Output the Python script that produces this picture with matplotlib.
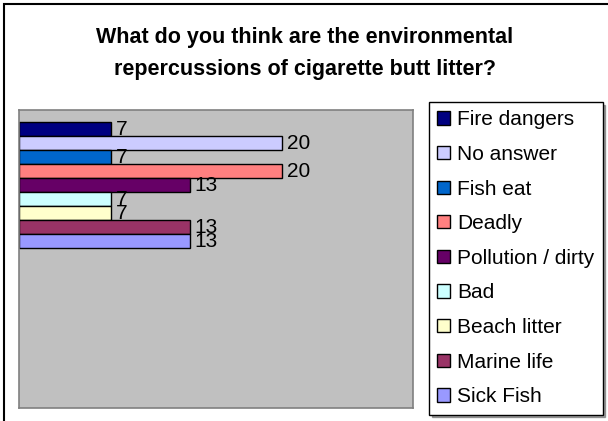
import matplotlib.pyplot as plt
from matplotlib.patches import Rectangle

# --- data ---
labels = ["Fire dangers", "No answer", "Fish eat", "Deadly", "Pollution / dirty",
          "Bad", "Beach litter", "Marine life", "Sick Fish"]
values = [7, 20, 7, 20, 13, 7, 7, 13, 13]
colors = ["#000080", "#CCCCFF", "#0066CC", "#FF8080", "#660066",
          "#CCFFFF", "#FFFFCC", "#993366", "#9999FF"]

W, H = 608, 421
plt.rcParams['font.family'] = ['Liberation Sans', 'DejaVu Sans']

fig = plt.figure(figsize=(W / 100, H / 100), dpi=100)
fig.patch.set_facecolor("white")

# outer chart frame (only top and left edges visible)
fig.patches.append(Rectangle((4 / W, -0.5), 1.5, 1.5 - 4 / H,
                             transform=fig.transFigure, fill=False,
                             edgecolor="black", linewidth=1.5))

# plot area in pixel coords: x 19..413, y 110..408
ax = fig.add_axes([19 / W, 1 - 408 / H, (413 - 19) / W, (408 - 110) / H])
ax.set_facecolor("#C0C0C0")
for s in ax.spines.values():
    s.set_color("#808080")
    s.set_linewidth(1.2)

ypos = list(range(len(values)))
ax.barh(ypos, values, height=1.0, color=colors, edgecolor="black", linewidth=1.0)

for y, v in zip(ypos, values):
    ax.annotate(str(v), (v, y), xytext=(5, 0), textcoords="offset pixels",
                ha="left", va="center", fontsize=15)

ax.set_xlim(0, 30)
ax.set_ylim(19.93, -1.36)
ax.set_xticks([])
ax.set_yticks([])

# legend
handles = [Rectangle((0, 0), 1, 1, facecolor=c, edgecolor="black", linewidth=1.0)
           for c in colors]
leg = fig.legend(handles, labels, loc="upper left",
                 bbox_to_anchor=(429 / W, 1 - 102 / H),
                 fontsize=15, frameon=True, fancybox=False, shadow=True,
                 handlelength=0.6, handleheight=0.6, handletextpad=0.35,
                 labelspacing=0.75, borderpad=0.4, borderaxespad=0)
leg.get_frame().set_edgecolor("black")
leg.get_frame().set_linewidth(1.0)

fig.text(305 / W, 1 - 37 / H, "What do you think are the environmental",
         ha="center", va="center", fontsize=15.5, fontweight="bold")
fig.text(305 / W, 1 - 69 / H, "repercussions of cigarette butt litter?",
         ha="center", va="center", fontsize=15.5, fontweight="bold")

fig.savefig("out.png", dpi=100)
